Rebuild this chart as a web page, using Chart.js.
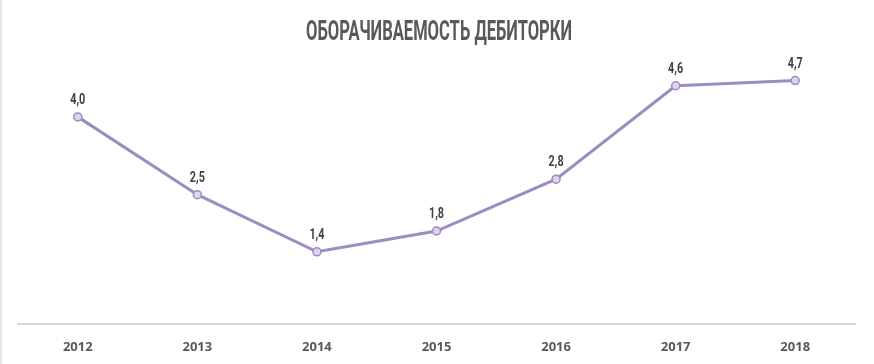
<!DOCTYPE html>
<html><head><meta charset="utf-8">
<script src="https://cdn.jsdelivr.net/npm/chart.js@4/dist/chart.umd.min.js"></script>
<style>
html,body{margin:0;padding:0;background:#fff;}
#wrap{position:relative;width:874px;height:364px;box-sizing:border-box;border-left:2px solid #e6e6e6;}
</style></head>
<body><div id="wrap"><canvas id="c"></canvas></div>
<script>
const titleText = "ОБОРАЧИВАЕМОСТЬ ДЕБИТОРКИ";
const years = ["2012","2013","2014","2015","2016","2017","2018"];
const turnover = [4.0, 2.5, 1.4, 1.8, 2.8, 4.6, 4.7];
const valueLabels = ["4,0","2,5","1,4","1,8","2,8","4,6","4,7"];

const lineColor = "#9e8bc2";

const customText = {
  id: "customText",
  afterDatasetsDraw(chart) {
    const ctx = chart.ctx;
    const meta = chart.getDatasetMeta(0);
    ctx.save();
    ctx.fillStyle = "#3f3f3f";
    ctx.font = "bold 15px Roboto";
    ctx.textAlign = "center";
    ctx.textBaseline = "alphabetic";
    meta.data.forEach((pt, i) => {
      ctx.save();
      ctx.translate(pt.x, pt.y - 13);
      ctx.scale(0.72, 1);
      ctx.fillText(valueLabels[i], 0, 0);
      ctx.restore();
    });
    ctx.restore();
    ctx.save();
    ctx.fillStyle = "#595959";
    ctx.font = "bold 28px Roboto";
    ctx.textAlign = "center";
    ctx.textBaseline = "alphabetic";
    const w = ctx.measureText(titleText).width;
    const sx = 266 / w;
    ctx.translate(437, 40);
    ctx.scale(sx, 1);
    ctx.fillText(titleText, 0, 0);
    ctx.restore();
  }
};

new Chart(document.getElementById("c"), {
  type: "line",
  data: {
    labels: years,
    datasets: [{
      data: turnover,
      borderColor: lineColor,
      borderWidth: 3,
      tension: 0,
      pointRadius: 4,
      pointBorderWidth: 1.5,
      pointBackgroundColor: "#ddd5ea",
      pointBorderColor: lineColor
    }]
  },
  options: {
    responsive: true,
    maintainAspectRatio: false,
    animation: false,
    layout: { padding: { left: 16, right: 19, top: 65, bottom: -6 } },
    plugins: { legend: { display: false }, title: { display: false }, tooltip: { enabled: false } },
    scales: {
      x: {
        offset: true,
        grid: { display: false, drawTicks: false },
        border: { display: true, color: "#d9d9d9", width: 2 },
        ticks: { color: "#595959", font: { family: "Open Sans", weight: "bold", size: 13 }, padding: 15 }
      },
      y: { display: false, min: 0, max: 5 }
    }
  },
  plugins: [customText]
});
</script></body></html>
